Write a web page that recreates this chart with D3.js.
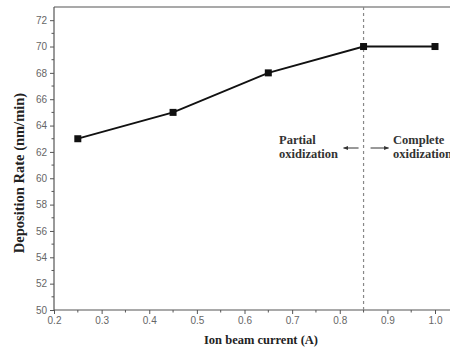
<!DOCTYPE html>
<html>
<head>
<meta charset="utf-8">
<script src="https://cdn.jsdelivr.net/npm/d3@7"></script>
<style>
  body { margin: 0; background: #fff; }
  svg { display: block; }
  .tick text { font-family: "Liberation Sans", Arial, sans-serif; font-size: 10px; fill: #666; }
  .axis path, .axis line { stroke: #555; }
</style>
</head>
<body>
<svg id="chart" width="450" height="351"></svg>
<script>
// data
const current = [0.25, 0.45, 0.65, 0.85, 1.0];
const rate = [63, 65, 68, 70, 70];
const xTicks = [0.2, 0.3, 0.4, 0.5, 0.6, 0.7, 0.8, 0.9, 1.0];
const yTicks = [50, 52, 54, 56, 58, 60, 62, 64, 66, 68, 70, 72];
const boundary = 0.85;

const svg = d3.select('#chart');
const margin = { top: 7, left: 54, bottom: 41 };

const x = d3.scaleLinear().domain([0.2, 1.0]).range([margin.left, 435]);
const y = d3.scaleLinear().domain([50, 73]).range([351 - margin.bottom, margin.top]);

// frame (right side runs off the picture)
svg.append('line')
  .attr('x1', margin.left).attr('x2', 450)
  .attr('y1', margin.top).attr('y2', margin.top)
  .attr('stroke', '#555').attr('stroke-width', 1.2);

// minor ticks
const xMinor = d3.range(0.25, 1.05, 0.1);
const yMinor = d3.range(51, 73, 2);
svg.append('g').selectAll('line').data(xMinor).enter().append('line')
  .attr('x1', d => x(d)).attr('x2', d => x(d))
  .attr('y1', y(50)).attr('y2', y(50) + 2.5)
  .attr('stroke', '#555');
svg.append('g').selectAll('line').data(yMinor).enter().append('line')
  .attr('x1', x(0.2) - 2.5).attr('x2', x(0.2))
  .attr('y1', d => y(d)).attr('y2', d => y(d))
  .attr('stroke', '#555');

const xAxis = svg.append('g')
  .attr('class', 'axis')
  .attr('transform', 'translate(0,' + y(50) + ')')
  .call(d3.axisBottom(x).tickValues(xTicks).tickSize(4).tickPadding(3).tickFormat(d3.format('.1f')));
xAxis.select('.domain').attr('d', 'M' + margin.left + ',0H450').attr('stroke-width', 1.2);

const yAxis = svg.append('g')
  .attr('class', 'axis')
  .attr('transform', 'translate(' + margin.left + ',0)')
  .call(d3.axisLeft(y).tickValues(yTicks).tickSize(4).tickPadding(3));
yAxis.select('.domain').attr('d', 'M0,' + y(50) + 'V' + margin.top).attr('stroke-width', 1.2);

// boundary line
svg.append('line')
  .attr('x1', x(boundary)).attr('x2', x(boundary))
  .attr('y1', margin.top).attr('y2', y(50))
  .attr('stroke', '#888').attr('stroke-width', 1.2)
  .attr('stroke-dasharray', '3,3');

// series
const pts = current.map((c, i) => ({ x: c, y: rate[i] }));
svg.append('path')
  .datum(pts)
  .attr('fill', 'none')
  .attr('stroke', '#111')
  .attr('stroke-width', 1.8)
  .attr('d', d3.line().x(d => x(d.x)).y(d => y(d.y)));
svg.append('g').selectAll('rect').data(pts).enter().append('rect')
  .attr('x', d => x(d.x) - 3.5).attr('y', d => y(d.y) - 3.5)
  .attr('width', 7).attr('height', 7)
  .attr('fill', '#111');

const serif = '"Liberation Serif", "Times New Roman", serif';

// axis titles
svg.append('text')
  .attr('x', 261).attr('y', 344)
  .attr('text-anchor', 'middle')
  .attr('font-family', serif)
  .attr('font-weight', 'bold').attr('font-size', 12.5).attr('fill', '#222')
  .text('Ion beam current (A)');
svg.append('text')
  .attr('transform', 'translate(24,173) rotate(-90)')
  .attr('text-anchor', 'middle')
  .attr('font-family', serif)
  .attr('font-weight', 'bold').attr('font-size', 14.5).attr('fill', '#222')
  .text('Deposition Rate (nm/min)');

// annotations, one text per line
function label(xp, lines) {
  lines.forEach((s, i) => svg.append('text')
    .attr('x', xp).attr('y', 144 + i * 14)
    .attr('font-family', serif).attr('font-weight', 'bold')
    .attr('font-size', 12.5).attr('fill', '#333')
    .text(s));
}
label(279, ['Partial', 'oxidization']);
label(393, ['Complete', 'oxidization']);

svg.append('defs').append('marker')
  .attr('id', 'arr').attr('viewBox', '0 0 10 10')
  .attr('refX', 9).attr('refY', 5)
  .attr('markerWidth', 5).attr('markerHeight', 5)
  .attr('orient', 'auto')
  .append('path').attr('d', 'M0,1L10,5L0,9Z').attr('fill', '#333');
const ay = 148;
svg.append('line')
  .attr('x1', x(boundary) - 5).attr('x2', x(boundary) - 20)
  .attr('y1', ay).attr('y2', ay)
  .attr('stroke', '#333').attr('stroke-width', 1).attr('marker-end', 'url(#arr)');
svg.append('line')
  .attr('x1', x(boundary) + 7).attr('x2', x(boundary) + 25)
  .attr('y1', ay).attr('y2', ay)
  .attr('stroke', '#333').attr('stroke-width', 1).attr('marker-end', 'url(#arr)');
</script>
</body>
</html>
